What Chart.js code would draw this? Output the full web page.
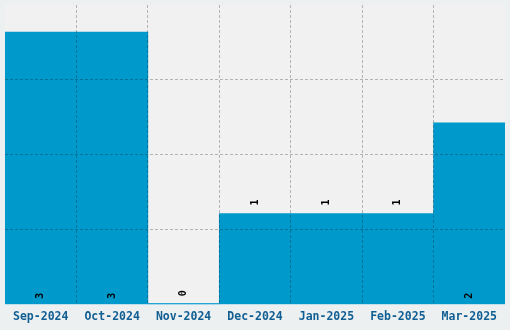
<!DOCTYPE html>
<html>
<head>
<meta charset="utf-8">
<script src="https://cdn.jsdelivr.net/npm/chart.js@4/dist/chart.umd.min.js"></script>
<style>
  html, body { margin: 0; padding: 0; background: #ecf0f1; }
  #wrap { width: 510px; height: 330px; }
</style>
</head>
<body>
<div id="wrap"><canvas id="chart"></canvas></div>
<script>
const MONTHS = ['Sep-2024', 'Oct-2024', 'Nov-2024', 'Dec-2024', 'Jan-2025', 'Feb-2025', 'Mar-2025'];
const COUNTS = [3, 3, 0, 1, 1, 1, 2];
const Y_MAX = 3.3;

const BAR_COLOR = '#0099cc';
const GRID_COLOR = 'rgba(0, 0, 0, 0.25)';
const FONT = "'DejaVu Sans Mono', monospace";

// fill the plot area, and the baseline under the bars
const plotBackground = {
    id: 'plotBackground',
    beforeDraw(chart) {
        const a = chart.chartArea;
        const ctx = chart.ctx;
        ctx.save();
        ctx.fillStyle = '#f1f1f1';
        ctx.fillRect(a.left, a.top, a.right - a.left, a.bottom - a.top);
        ctx.fillStyle = BAR_COLOR;
        ctx.fillRect(a.left, a.bottom - 1, a.right - a.left, 1);
        ctx.restore();
    }
};

// rotated value labels: inside at the base for tall bars, above the end otherwise
const valueLabels = {
    id: 'valueLabels',
    afterDraw(chart) {
        const ctx = chart.ctx;
        const meta = chart.getDatasetMeta(0);
        ctx.save();
        ctx.font = 'bold 10px ' + FONT;
        ctx.fillStyle = '#000';
        ctx.textBaseline = 'middle';
        ctx.textAlign = 'left';
        meta.data.forEach((bar, i) => {
            const h = bar.base - bar.y;
            const start = h > 120 ? bar.base - 5 : bar.y - 8;
            ctx.save();
            ctx.translate(bar.x, start);
            ctx.rotate(-Math.PI / 2);
            ctx.fillText(String(COUNTS[i]), 0, 0);
            ctx.restore();
        });
        ctx.restore();
    }
};

// no grid line on the plot edges
const edgeHidden = (count) => (c) =>
    (c.index === undefined || c.index === 0 || c.index >= count - 1) ? 'rgba(0,0,0,0)' : GRID_COLOR;

new Chart(document.getElementById('chart'), {
    type: 'bar',
    data: {
        labels: MONTHS,
        datasets: [{
            data: COUNTS,
            backgroundColor: BAR_COLOR,
            borderWidth: 0,
            categoryPercentage: 1,
            barPercentage: 1
        }]
    },
    options: {
        responsive: true,
        maintainAspectRatio: false,
        animation: false,
        layout: { padding: { left: 5, right: 5, top: 5, bottom: 0 } },
        plugins: {
            legend: { display: false },
            tooltip: { enabled: false }
        },
        scales: {
            x: {
                grid: {
                    z: 1,
                    color: edgeHidden(MONTHS.length + 1),
                    drawTicks: false
                },
                border: { display: false, dash: [3, 2] },
                ticks: {
                    padding: 6,
                    color: '#115e93',
                    maxRotation: 0,
                    autoSkip: false,
                    font: { family: FONT, size: 11.5, weight: 'bold' }
                }
            },
            y: {
                min: 0,
                max: Y_MAX,
                grid: {
                    z: 1,
                    color: edgeHidden(5),
                    drawTicks: false
                },
                border: { display: false, dash: [3, 2] },
                ticks: { display: false, count: 5 }
            }
        }
    },
    plugins: [plotBackground, valueLabels]
});
</script>
</body>
</html>
